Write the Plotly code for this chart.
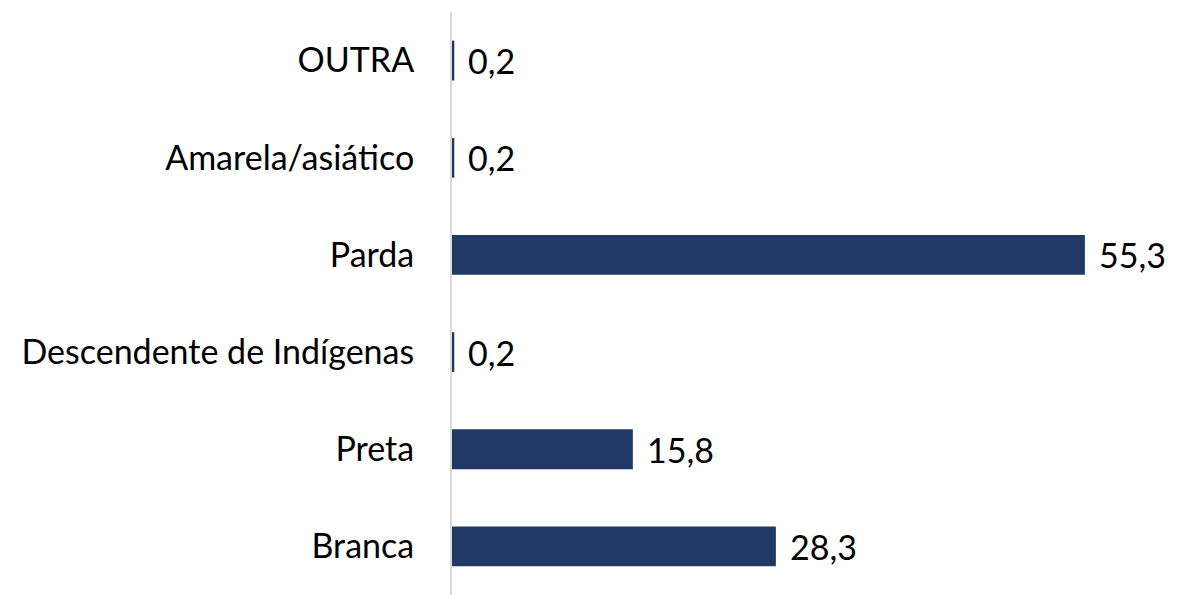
import plotly.graph_objects as go

categories = ["Branca", "Preta", "Descendente de Indígenas", "Parda", "Amarela/asiático", "OUTRA"]
values = [28.3, 15.8, 0.2, 55.3, 0.2, 0.2]
labels = [f"{v:.1f}".replace(".", ",") for v in values]

FONT = "Lato"
SIZE = 34

fig = go.Figure(go.Bar(
    x=values,
    y=categories,
    orientation="h",
    marker=dict(color="#203864", line=dict(width=0)),
    width=0.41,
    cliponaxis=False,
))

for cat, v, lab in zip(categories, values, labels):
    fig.add_annotation(
        x=v, y=cat, text=lab, showarrow=False,
        xanchor="left", yanchor="middle", xshift=12,
        font=dict(size=SIZE, family=FONT, color="#000000"),
    )

fig.update_layout(
    width=1181, height=595,
    margin=dict(l=452, r=0, t=12, b=0),
    paper_bgcolor="white", plot_bgcolor="white",
    showlegend=False,
    font=dict(family=FONT, size=SIZE, color="#000000"),
    xaxis=dict(range=[0, 63.7], visible=False, showgrid=False, zeroline=False),
    yaxis=dict(
        showline=True, linecolor="#d9d9d9", linewidth=2,
        showgrid=False, zeroline=False,
        ticks="", ticklabelstandoff=29,
        tickfont=dict(size=SIZE, family=FONT, color="#000000"),
        categoryorder="array", categoryarray=categories,
    ),
)

fig.write_html("out.html")
